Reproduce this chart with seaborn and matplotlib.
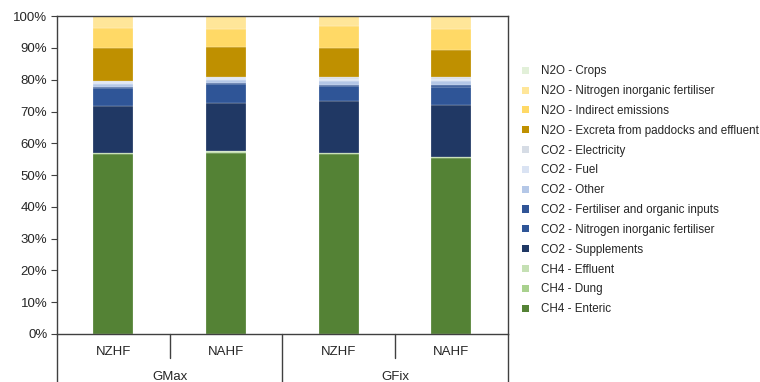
import numpy as np
import matplotlib
matplotlib.use("Agg")
import matplotlib.pyplot as plt
from matplotlib.patches import Patch
import seaborn as sns

# Farm systems and scenarios
scenarios = ["GMax", "GMax", "GFix", "GFix"]
systems = ["NZHF", "NAHF", "NZHF", "NAHF"]
groups = ["GMax", "GFix"]

# Emission sources, stacked bottom to top (share of total, %)
sources = [
    "CH4 - Enteric",
    "CH4 - Dung",
    "CH4 - Effluent",
    "CO2 - Supplements",
    "CO2 - Nitrogen inorganic fertiliser",
    "CO2 - Fertiliser and organic inputs",
    "CO2 - Other",
    "CO2 - Fuel",
    "CO2 - Electricity",
    "N2O - Excreta from paddocks and effluent",
    "N2O - Indirect emissions",
    "N2O - Nitrogen inorganic fertiliser",
    "N2O - Crops",
]
ch4_enteric = [56.7, 57.1, 56.6, 55.4]
ch4_dung = [0.2, 0.2, 0.2, 0.2]
ch4_effluent = [0.2, 0.2, 0.2, 0.2]
co2_supplements = [14.7, 15.2, 16.3, 16.2]
co2_n_fert = [5.5, 5.8, 4.6, 5.7]
co2_fert_organic = [0.5, 0.5, 0.5, 0.5]
co2_other = [1.0, 1.0, 1.2, 1.3]
co2_fuel = [0.4, 0.45, 0.7, 0.65]
co2_electricity = [0.4, 0.45, 0.7, 0.65]
n2o_excreta = [10.3, 9.4, 8.9, 8.4]
n2o_indirect = [6.3, 5.6, 6.9, 6.7]
n2o_n_fert = [3.8, 4.1, 3.2, 4.1]
n2o_crops = [0.0, 0.0, 0.0, 0.0]

series = [
    ch4_enteric, ch4_dung, ch4_effluent, co2_supplements, co2_n_fert,
    co2_fert_organic, co2_other, co2_fuel, co2_electricity, n2o_excreta,
    n2o_indirect, n2o_n_fert, n2o_crops,
]
colors = [
    "#548235", "#A9D18E", "#C5E0B4", "#203864", "#2F5597",
    "#305496", "#B4C7E7", "#DAE3F3", "#D6DCE5", "#BF9000",
    "#FFD966", "#FFE699", "#E2F0D9",
]

sns.set_theme(style="white")
plt.rcParams["font.family"] = ["Liberation Sans", "DejaVu Sans"]
text_col = "#262626"
line_col = "#404040"

fig = plt.figure(figsize=(7.6, 3.82), dpi=100)
ax = fig.add_axes([0.075, 0.1257, 0.593, 0.832])

bar_keys = [f"{g} {s}" for g, s in zip(scenarios, systems)]
values = np.array(series, dtype=float)
shares = values / values.sum(axis=0) * 100.0
bottom = np.zeros(len(bar_keys))
for name, vals, col in zip(sources, shares, colors):
    sns.barplot(x=bar_keys, y=vals, order=bar_keys, color=col, width=0.355,
                bottom=bottom, edgecolor=(1, 1, 1, 0.55), linewidth=0.3,
                saturation=1, ax=ax)
    bottom = bottom + vals

ax.set_xlim(-0.5, 3.5)
ax.set_ylim(0, 100)
ax.set_yticks(np.arange(0, 101, 10))
ax.set_yticklabels([f"{v}%" for v in range(0, 101, 10)])
ax.tick_params(axis="y", which="major", left=True, length=4, width=0.8,
               color=line_col, labelsize=9.5, labelcolor=text_col, pad=3)
ax.set_xticks([])
ax.set_xlabel("")
ax.set_ylabel("")
for sp in ax.spines.values():
    sp.set_visible(True)
    sp.set_color(line_col)
    sp.set_linewidth(1.0)

# Two-level category axis
for i, s in enumerate(systems):
    ax.text((i + 0.5) / 4, -0.056, s, transform=ax.transAxes, ha="center",
            va="center", fontsize=9.5, color=text_col)
for j, g in enumerate(groups):
    ax.text((j + 0.5) / 2, -0.135, g, transform=ax.transAxes, ha="center",
            va="center", fontsize=9.5, color=text_col)
for xpos in (0.25, 0.75):
    ax.plot([xpos, xpos], [0, -0.075], transform=ax.transAxes, color=line_col,
            lw=1.0, clip_on=False)
for xpos in (0.0, 0.5, 1.0):
    ax.plot([xpos, xpos], [0, -0.16], transform=ax.transAxes, color=line_col,
            lw=1.0, clip_on=False)

handles = [Patch(facecolor=c, edgecolor="none", label=n)
           for n, c in zip(sources, colors)][::-1]
fig.legend(handles=handles, loc="upper left", bbox_to_anchor=(0.681, 0.841),
           frameon=False, fontsize=8.4, handlelength=0.55, handleheight=0.55,
           handletextpad=1.05, labelspacing=0.67, borderaxespad=0,
           labelcolor=text_col)

fig.savefig("out.png", dpi=100)
